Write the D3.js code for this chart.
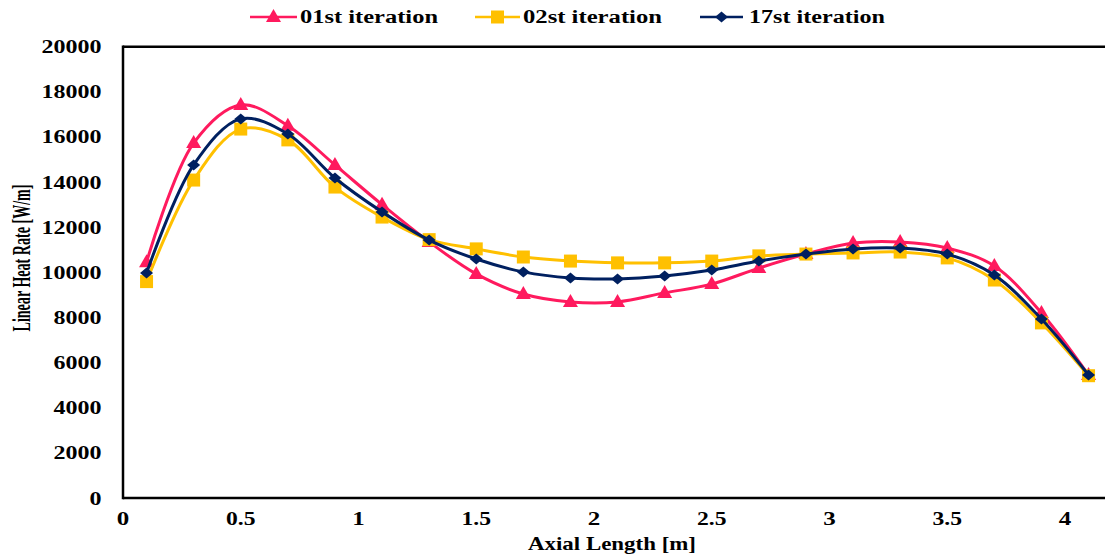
<!DOCTYPE html>
<html>
<head>
<meta charset="utf-8">
<script src="https://cdn.jsdelivr.net/npm/d3@7"></script>
<style>
  html, body { margin: 0; padding: 0; background: #fff; }
  svg { display: block; }
  text { font-family: "Liberation Serif", "Times New Roman", Times, serif; font-weight: bold; fill: #000; }
</style>
</head>
<body>
<svg id="chart" width="1105" height="554"></svg>
<script>
const axialLength = [0.1, 0.3, 0.5, 0.7, 0.9, 1.1, 1.3, 1.5, 1.7, 1.9, 2.1, 2.3, 2.5, 2.7, 2.9, 3.1, 3.3, 3.5, 3.7, 3.9, 4.1];
const iter01 = [10450, 15730, 17420, 16500, 14760, 13000, 11350, 9930, 9040, 8690, 8690, 9090, 9480, 10190, 10810, 11300, 11350, 11080, 10280, 8200, 5450];
const iter02 = [9590, 14090, 16350, 15870, 13780, 12450, 11450, 11040, 10680, 10500, 10420, 10420, 10500, 10730, 10810, 10860, 10900, 10640, 9660, 7760, 5420];
const iter17 = [9970, 14760, 16800, 16130, 14180, 12680, 11430, 10590, 10020, 9750, 9710, 9840, 10100, 10500, 10810, 11040, 11080, 10810, 9880, 7930, 5450];
const seriesNames = ["01st iteration", "02st iteration", "17st iteration"];
const xTicks = [0, 0.5, 1, 1.5, 2, 2.5, 3, 3.5, 4];
const yTicks = [0, 2000, 4000, 6000, 8000, 10000, 12000, 14000, 16000, 18000, 20000];

const svg = d3.select("#chart");
const x = d3.scaleLinear().domain([0, 4]).range([123, 1065]);
const y = d3.scaleLinear().domain([0, 20000]).range([498, 46.7]);

const colors = ["#FF1A5E", "#FFC000", "#002060"];
const shapes = ["triangle", "square", "diamond"];
const series = [iter01, iter02, iter17];

function markerPath(shape) {
  if (shape === "triangle") return "M0,-8 L7.5,5 L-7.5,5 Z";
  if (shape === "square") return "M-6.5,-6.5 H6.5 V6.5 H-6.5 Z";
  return "M0,-5.5 L6.5,0 L0,5.5 L-6.5,0 Z";
}

const xRight = x(4.25);
svg.append("line").attr("x1", x(0)).attr("x2", xRight).attr("y1", y(20000)).attr("y2", y(20000))
  .attr("stroke", "#000").attr("stroke-width", 2.5);
svg.append("line").attr("x1", x(0)).attr("x2", xRight).attr("y1", y(0)).attr("y2", y(0))
  .attr("stroke", "#000").attr("stroke-width", 2.5);
svg.append("line").attr("x1", x(0)).attr("x2", x(0)).attr("y1", y(20000) - 1.2).attr("y2", y(0) + 1.2)
  .attr("stroke", "#000").attr("stroke-width", 2.5);

svg.append("g").selectAll("text").data(yTicks).join("text")
  .attr("x", 101.5).attr("y", d => y(d) + 6.5)
  .attr("text-anchor", "end")
  .attr("font-size", 19)
  .attr("textLength", d => String(d).length * 12)
  .attr("lengthAdjust", "spacingAndGlyphs")
  .text(d => d);

svg.append("g").selectAll("text").data(xTicks).join("text")
  .attr("x", d => x(d)).attr("y", 525)
  .attr("text-anchor", "middle")
  .attr("font-size", 18)
  .attr("textLength", d => String(d).length === 1 ? 12.5 : 29.5)
  .attr("lengthAdjust", "spacingAndGlyphs")
  .text(d => d);

svg.append("text").attr("x", 612).attr("y", 550).attr("text-anchor", "middle")
  .attr("font-size", 19).attr("textLength", 168).attr("lengthAdjust", "spacingAndGlyphs")
  .text("Axial Length [m]");
svg.append("text").attr("transform", "translate(30,258) rotate(-90)").attr("text-anchor", "middle")
  .attr("font-size", 25).attr("textLength", 147).attr("lengthAdjust", "spacingAndGlyphs")
  .text("Linear Heat Rate [W/m]");

const line = d3.line().x((d, i) => x(axialLength[i])).y(d => y(d)).curve(d3.curveCatmullRom.alpha(0.5));
series.forEach((vals, k) => {
  const g = svg.append("g");
  g.append("path").attr("d", line(vals)).attr("fill", "none")
    .attr("stroke", colors[k]).attr("stroke-width", 3);
  g.selectAll("path.m").data(vals).join("path").attr("class", "m")
    .attr("d", markerPath(shapes[k]))
    .attr("transform", (d, i) => `translate(${x(axialLength[i])},${y(d)})`)
    .attr("fill", colors[k]);
});

const legendItems = [
  { x1: 250, x2: 297, tx: 300, tw: 138 },
  { x1: 475, x2: 520, tx: 523, tw: 139 },
  { x1: 700, x2: 743, tx: 749, tw: 136 }
];
legendItems.forEach((it, k) => {
  const g = svg.append("g");
  g.append("line").attr("x1", it.x1).attr("x2", it.x2).attr("y1", 17).attr("y2", 17)
    .attr("stroke", colors[k]).attr("stroke-width", 2.5);
  g.append("path").attr("d", markerPath(shapes[k]))
    .attr("transform", `translate(${(it.x1 + it.x2) / 2},17)`).attr("fill", colors[k]);
  g.append("text").attr("x", it.tx).attr("y", 23).attr("font-size", 18)
    .attr("textLength", it.tw).attr("lengthAdjust", "spacingAndGlyphs")
    .text(seriesNames[k]);
});
</script>
</body>
</html>
